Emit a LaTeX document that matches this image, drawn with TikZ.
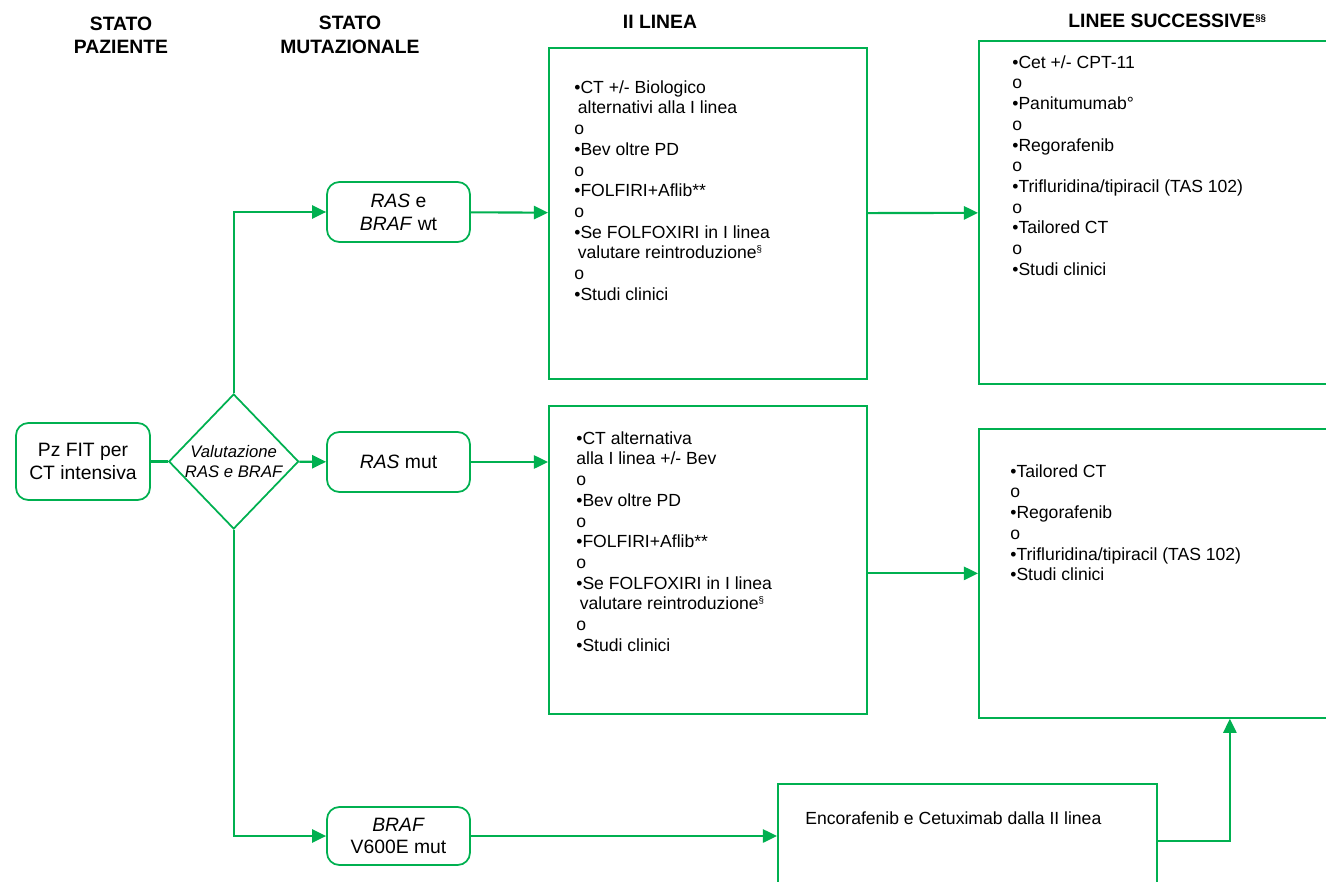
\documentclass[tikz,border=0pt]{standalone}
\usepackage{fontspec}
\setmainfont{Liberation Sans}
\usetikzlibrary{shapes.geometric,arrows.meta,positioning,calc}
\definecolor{pgreen}{RGB}{0,176,80}
\newcommand{\tinysup}[1]{\raisebox{3.5pt}{\fontsize{5.5}{6}\selectfont #1}}

\begin{document}
\begin{tikzpicture}[
    box/.style={rectangle, draw=pgreen, line width=1pt, rounded corners=7pt, minimum width=2.86cm, minimum height=1.2cm, align=center, font=\fontsize{11}{13}\selectfont},
    dec/.style={diamond, draw=pgreen, line width=1pt, minimum width=2.58cm, minimum height=2.7cm, inner sep=0pt, align=center, font=\fontsize{9.5}{11.5}\selectfont\itshape},
    panel/.style={rectangle, draw=pgreen, line width=1pt, anchor=north west},
    list/.style={anchor=north west, inner sep=0pt, align=left, font=\fontsize{10}{11.8}\selectfont},
    head/.style={align=center, font=\fontsize{11}{13.3}\selectfont\bfseries},
    arrow/.style={-{Triangle[length=8pt,width=7.5pt]}, draw=pgreen, line width=1.2pt},
    link/.style={draw=pgreen, line width=1.2pt},
]
    \useasboundingbox (0,0) rectangle (26.52,-17.64);
    \clip (0,0) rectangle (26.52,-17.64);

    % Column headers
    \node[head] (hpaz) at (2.42,-0.70) {STATO\\PAZIENTE};
    \node[head] (hmut) at (7.0,-0.70) {STATO\\MUTAZIONALE};
    \node[head] (hii) at (13.2,-0.43) {II LINEA};
    \node[head, anchor=west, inner sep=0pt] (hsucc) at (21.36,-0.42) {LINEE SUCCESSIVE\tinysup{§§}};

    % Patient and mutational status
    \node[box, minimum width=2.68cm, minimum height=1.54cm] (pz) at (1.66,-9.23) {Pz FIT per\\CT intensiva};
    \node[dec, right=0.34cm of pz] (val) {Valutazione\\RAS e BRAF};
    \node[box] (raswt) at (7.97,-4.24) {\textit{RAS} e\\\textit{BRAF} wt};
    \node[box] (rasmut) at (7.97,-9.24) {\textit{RAS} mut};
    \node[box, minimum height=1.16cm] (brafm) at (7.97,-16.72) {\textit{BRAF}\\V600E mut};
    \draw[link] (pz) -- (val);
    \draw[arrow] (val.north) |- (raswt.west);
    \draw[arrow] (val) -- (rasmut);
    \draw[arrow] (val.south) |- (brafm.west);

    % II linea
    \node[panel, minimum width=6.36cm, minimum height=6.62cm] (iiwt) at (10.96,-0.94) {};
    \node[panel, minimum width=6.36cm, minimum height=6.16cm] (iimut) at (10.96,-8.10) {};
    \node[panel, minimum width=7.58cm, minimum height=2.28cm] (enco) at (15.54,-15.66) {};
    \node[list] (iiwttxt) at (11.48,-1.60) {%
        •CT +/- Biologico\\
        \hspace{2pt}alternativi alla I linea\\
        o\\
        •Bev oltre PD\\
        o\\
        •FOLFIRI+Aflib**\\
        o\\
        •Se FOLFOXIRI in I linea\\
        \hspace{2pt}valutare reintroduzione\tinysup{§}\\
        o\\
        •Studi clinici};
    \node[list] (iimuttxt) at (11.52,-8.62) {%
        •CT alternativa\\
        alla I linea +/- Bev\\
        o\\
        •Bev oltre PD\\
        o\\
        •FOLFIRI+Aflib**\\
        o\\
        •Se FOLFOXIRI in I linea\\
        \hspace{2pt}valutare reintroduzione\tinysup{§}\\
        o\\
        •Studi clinici};
    \node[list] (encotxt) at (16.10,-16.22) {Encorafenib e Cetuximab dalla II linea};
    \draw[arrow] (raswt) -- (iiwt);
    \draw[arrow] (rasmut) -- (rasmut -| iimut.west);
    \draw[arrow] (brafm) -- (brafm -| enco.west);

    % Linee successive
    \node[panel, minimum width=10.04cm, minimum height=6.86cm] (succwt) at (19.56,-0.80) {};
    \node[panel, minimum width=10.04cm, minimum height=5.78cm] (succmut) at (19.56,-8.56) {};
    \node[list] (succwttxt) at (20.24,-1.10) {%
        •Cet +/- CPT-11\\
        o\\
        •Panitumumab°\\
        o\\
        •Regorafenib\\
        o\\
        •Trifluridina/tipiracil (TAS 102)\\
        o\\
        •Tailored CT\\
        o\\
        •Studi clinici};
    \node[list] (succmuttxt) at (20.20,-9.28) {%
        •Tailored CT\\
        o\\
        •Regorafenib\\
        o\\
        •Trifluridina/tipiracil (TAS 102)\\
        •Studi clinici};
    \draw[arrow] (iiwt) -- (succwt);
    \draw[arrow] (succmut.west -| iimut.east) -- (succmut.west);
    \draw[arrow] (enco.east) -| (succmut.south);
\end{tikzpicture}
\end{document}
